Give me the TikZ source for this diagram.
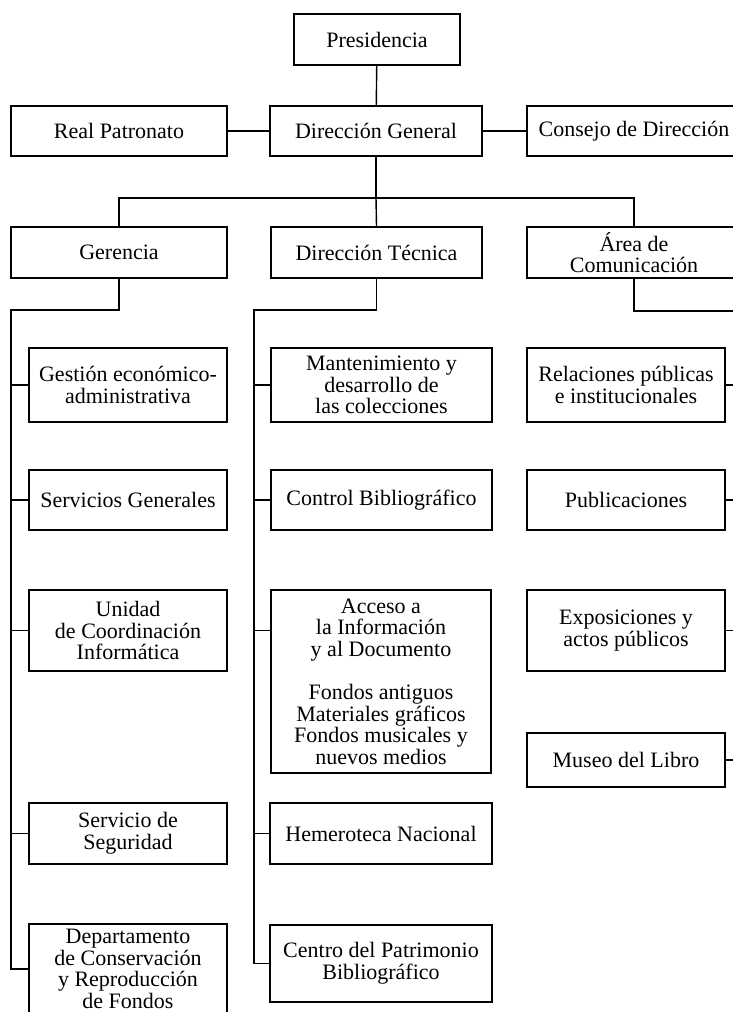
\documentclass[tikz,border=0pt]{standalone}
\usepackage{fontspec}
\setmainfont{Liberation Serif}
\begin{document}
\begin{tikzpicture}[x=1pt, y=-1pt,
    caja/.style={draw, line width=1.7pt, align=center, inner sep=0pt,
        font=\fontsize{22}{21.6}\selectfont},
    linea/.style={line width=1.4pt}]
    \useasboundingbox (0,0) rectangle (733,1012);
    \clip (0,0) rectangle (733,1012);

    % Dirección
    \node[caja, minimum width=166pt, minimum height=51pt] (pres) at (377, 39.5) {Presidencia};
    \node[caja, minimum width=212pt, minimum height=50pt] (dg) at (376, 131) {Dirección General};
    \node[caja, minimum width=216pt, minimum height=50pt] (rp) at (119, 131) {Real Patronato};
    \node[caja, minimum width=214pt, minimum height=50pt] (cd) at (634, 131) {Consejo de Dirección};

    % Áreas
    \node[caja, minimum width=216pt, minimum height=51pt] (ger) at (119, 252.5) {Gerencia};
    \node[caja, minimum width=211pt, minimum height=51pt] (dt) at (376.5, 252.5) {Dirección Técnica};
    \node[caja, minimum width=214pt, minimum height=51pt] (ac) at (634, 252.5) {Área de\\Comunicación};

    % Gerencia
    \node[caja, minimum width=198pt, minimum height=74pt] (gea) at (128, 385) {Gestión económico-\\administrativa};
    \node[caja, minimum width=198pt, minimum height=60pt] (sg) at (128, 500) {Servicios Generales};
    \node[caja, minimum width=198pt, minimum height=81pt] (uci) at (128, 630.5) {Unidad\\de Coordinación\\Informática};
    \node[caja, minimum width=198pt, minimum height=61pt] (ss) at (128, 833.5) {Servicio de\\Seguridad};
    \node[caja, minimum width=198pt, minimum height=90pt] (dep) at (128, 969) {Departamento\\de Conservación\\y Reproducción\\de Fondos};

    % Dirección Técnica
    \node[caja, minimum width=221pt, minimum height=74pt] (mdc) at (381.5, 385) {Mantenimiento y\\desarrollo de\\las colecciones};
    \node[caja, minimum width=221pt, minimum height=60pt] (cb) at (381.5, 500) {Control Bibliográfico};
    \node[caja, minimum width=220pt, minimum height=183pt] (aid) at (381, 681.5) {Acceso a\\la Información\\y al Documento\\[21.6pt]Fondos antiguos\\Materiales gráficos\\Fondos musicales y\\nuevos medios};
    \node[caja, minimum width=222pt, minimum height=61pt] (hn) at (381, 833.5) {Hemeroteca Nacional};
    \node[caja, minimum width=222pt, minimum height=77pt] (cpb) at (381, 963.5) {Centro del Patrimonio\\Bibliográfico};

    % Comunicación
    \node[caja, minimum width=198pt, minimum height=74pt] (rpi) at (626, 385) {Relaciones públicas\\e institucionales};
    \node[caja, minimum width=198pt, minimum height=60pt] (pub) at (626, 500) {Publicaciones};
    \node[caja, minimum width=198pt, minimum height=81pt] (exp) at (626, 630.5) {Exposiciones y\\actos públicos};
    \node[caja, minimum width=198pt, minimum height=54pt] (mus) at (626, 760) {Museo del Libro};

    % Conexiones
    \draw[linea] (pres) -- (dg);
    \draw[linea] (rp) -- (dg);
    \draw[linea] (dg) -- (cd);
    \draw[linea] (dg.south) -- ++(0,41) coordinate (bT);
    \draw[linea] (ger.north) |- (bT) -| (ac.north);
    \draw[linea] (bT) -- (dt.north);

    \coordinate (izq) at (11, 310);
    \coordinate (cen) at (254, 310);
    \coordinate (der) at (741, 311);
    \draw[linea] (ger.south) |- (izq) |- (dep.west);
    \draw[linea] (dt.south) |- (cen) |- (cpb.west);
    \draw[linea] (ac.south) |- (der) |- (mus.east);
    \foreach \n in {gea, sg, uci, ss}
        \draw[linea] (izq |- \n.west) -- (\n.west);
    \foreach \n in {mdc, cb, hn}
        \draw[linea] (cen |- \n.west) -- (\n.west);
    \draw[linea] (cen |- uci.east) -- (uci -| aid.west);
    \foreach \n in {rpi, pub, exp}
        \draw[linea] (\n.east) -- (der |- \n.east);
\end{tikzpicture}
\end{document}
